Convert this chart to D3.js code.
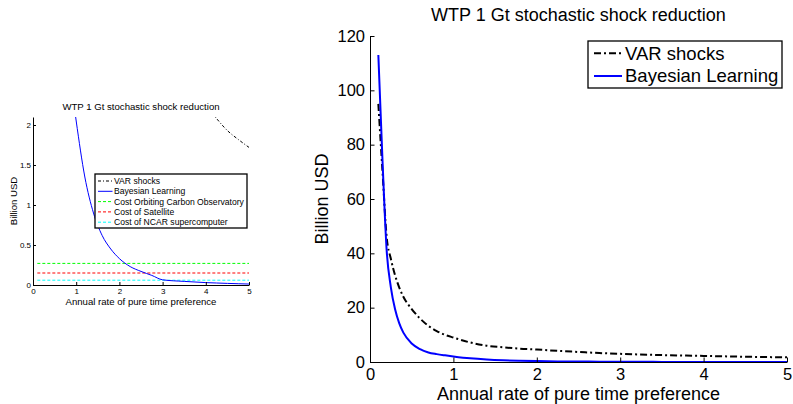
<!DOCTYPE html>
<html>
<head>
<meta charset="utf-8">
<script src="https://cdn.jsdelivr.net/npm/d3@7"></script>
<style>
  body { margin: 0; background: #fff; }
  text { font-family: 'Liberation Sans', Arial, sans-serif; }
</style>
</head>
<body>
<div id="chart"></div>
<script>
// values (Billion USD)
const rates = [0.1, 0.15, 0.2, 0.25, 0.3, 0.35, 0.4, 0.5, 0.6, 0.7, 0.8, 0.9, 1.0, 1.2, 1.4, 1.6, 1.8, 2.0, 2.25, 2.5, 2.75, 3.0, 3.5, 4.0, 4.25, 4.5, 4.75, 5.0];
const varShocks = [95, 70, 46, 38, 32, 27.5, 24, 19.5, 16, 13.3, 11.4, 10, 9, 7.2, 6.0, 5.4, 4.9, 4.6, 4.1, 3.7, 3.3, 3.0, 2.55, 2.25, 2.08, 1.93, 1.82, 1.72];
const bayesian = [113, 74, 41, 27.5, 19.5, 14.3, 10.8, 6.8, 4.7, 3.5, 2.9, 2.45, 2.05, 1.35, 0.9, 0.62, 0.45, 0.33, 0.23, 0.17, 0.12, 0.065, 0.045, 0.03, 0.025, 0.02, 0.016, 0.012];
const seriesLabels = ['VAR shocks', 'Bayesian Learning'];
const costLabels = ['Cost Orbiting Carbon Observatory', 'Cost of Satellite', 'Cost of NCAR supercomputer'];
const costValues = [0.27, 0.15, 0.06];
const costRange = [0.1, 5];
const xTicks = [0, 1, 2, 3, 4, 5];
const yTicksZoom = [0, 0.5, 1, 1.5, 2];
const yTicksFull = [0, 20, 40, 60, 80, 100, 120];
const titleText = 'WTP 1 Gt stochastic shock reduction';
const xLabelText = 'Annual rate of pure time preference';
const yLabelText = 'Billion USD';

const svg = d3
  .select('#chart')
  .append('svg')
  .attr('width', 793)
  .attr('height', 404);

function setupPanel(left, top, width, height, yMax, id) {
  const g = svg.append('g').attr('transform', `translate(${left},${top})`);
  const x = d3.scaleLinear().domain([0, 5]).range([0, width]);
  const y = d3.scaleLinear().domain([0, yMax]).range([height, 0]);
  g.append('clipPath')
    .attr('id', id)
    .append('rect')
    .attr('width', width)
    .attr('height', height);
  return { g, x, y, width, height, id };
}

function drawAxes(p, yTicks, o) {
  const styleAxis = (sel) => {
    sel.attr('font-family', "'Liberation Sans', Arial, sans-serif")
      .attr('font-size', o.tickFont);
    sel.selectAll('path, line').attr('stroke', '#000').attr('stroke-width', 1);
    sel.selectAll('text').attr('fill', '#000');
  };

  p.g.append('g')
    .attr('transform', `translate(0,${p.height})`)
    .call(d3.axisBottom(p.x).tickValues(xTicks).tickSizeInner(-o.tick).tickSizeOuter(0)
      .tickPadding(o.xPad).tickFormat(d3.format('d')))
    .call(styleAxis);

  p.g.append('g')
    .call(d3.axisLeft(p.y).tickValues(yTicks).tickSizeInner(-o.tick).tickSizeOuter(0)
      .tickPadding(o.yPad).tickFormat(d3.format('')))
    .call(styleAxis);

  // title and axis labels
  p.g.append('text')
    .attr('x', p.width / 2)
    .attr('y', o.titleY)
    .attr('text-anchor', 'middle')
    .style('font-size', o.labelFont + 'px')
    .text(titleText);

  p.g.append('text')
    .attr('x', p.width / 2)
    .attr('y', p.height + o.xLabelY)
    .attr('text-anchor', 'middle')
    .style('font-size', o.labelFont + 'px')
    .text(xLabelText);

  p.g.append('text')
    .attr('transform', `translate(${o.yLabelX},${p.height / 2}) rotate(-90)`)
    .attr('text-anchor', 'middle')
    .style('font-size', o.labelFont + 'px')
    .text(yLabelText);
}

function drawSeries(p, values, stroke, width, dash) {
  const line = d3
    .line()
    .curve(d3.curveMonotoneX)
    .x((d, i) => p.x(rates[i]))
    .y((d) => p.y(d));
  p.g.append('path')
    .datum(values)
    .attr('clip-path', `url(#${p.id})`)
    .attr('fill', 'none')
    .attr('stroke', stroke)
    .attr('stroke-width', width)
    .attr('stroke-dasharray', dash)
    .attr('d', line);
}

function drawLegend(p, items, o) {
  const lg = p.g.append('g').attr('transform', `translate(${o.x},${o.y})`);
  lg.append('rect')
    .attr('width', o.w)
    .attr('height', o.h)
    .attr('fill', '#fff')
    .attr('stroke', '#000')
    .attr('stroke-width', o.border);
  items.forEach((it, i) => {
    const cy = o.first + i * o.step;
    lg.append('line')
      .attr('x1', o.lineX[0])
      .attr('x2', o.lineX[1])
      .attr('y1', cy)
      .attr('y2', cy)
      .attr('stroke', it.stroke)
      .attr('stroke-width', it.width)
      .attr('stroke-dasharray', it.dash);
    lg.append('text')
      .attr('x', o.textX)
      .attr('y', cy)
      .attr('dy', '0.35em')
      .style('font-size', o.font + 'px')
      .text(it.label);
  });
}

// small panel: zoom on the low range with cost lines
const small = setupPanel(33, 117, 216, 168, 2.1, 'clip-small');
const costColors = ['#00ff00', '#ff0000', '#00ffff'];
costValues.forEach((c, i) => {
  small.g.append('line')
    .attr('x1', small.x(costRange[0]))
    .attr('x2', small.x(costRange[1]))
    .attr('y1', small.y(c))
    .attr('y2', small.y(c))
    .attr('stroke', costColors[i])
    .attr('stroke-width', 1)
    .attr('stroke-dasharray', '3,2');
});
drawSeries(small, bayesian, '#0000ff', 1, null);
drawSeries(small, varShocks, '#000', 1, '3,2,1,2');
drawAxes(small, yTicksZoom, {
  tick: 3, tickFont: 8, xPad: 3, yPad: 2, labelFont: 9.6,
  titleY: -7, xLabelY: 19.5, yLabelX: -16.5
});
drawLegend(small, [
  { label: seriesLabels[0], stroke: '#000', width: 1, dash: '3,2,1,2' },
  { label: seriesLabels[1], stroke: '#0000ff', width: 1, dash: null },
  { label: costLabels[0], stroke: costColors[0], width: 1, dash: '3,2' },
  { label: costLabels[1], stroke: costColors[1], width: 1, dash: '3,2' },
  { label: costLabels[2], stroke: costColors[2], width: 1, dash: '3,2' }
], { x: 62, y: 57, w: 152, h: 54, border: 1.3, first: 7, step: 10.3,
  lineX: [3, 17.5], textX: 19, font: 8.6 });

// large panel: full range
const big = setupPanel(370, 36, 417, 326, 120, 'clip-big');
drawSeries(big, varShocks, '#000', 2, '7,3,2,3');
drawSeries(big, bayesian, '#0000ff', 2, null);
drawAxes(big, yTicksFull, {
  tick: 4.5, tickFont: 16.5, xPad: 6, yPad: 5, labelFont: 18,
  titleY: -15.5, xLabelY: 38, yLabelX: -42
});
drawLegend(big, [
  { label: seriesLabels[0], stroke: '#000', width: 2, dash: '7,3,2,3' },
  { label: seriesLabels[1], stroke: '#0000ff', width: 2, dash: null }
], { x: 218, y: 5, w: 194, h: 47, border: 1.3, first: 12.3, step: 22.7,
  lineX: [6, 34], textX: 37, font: 18.5 });
</script>
</body>
</html>
